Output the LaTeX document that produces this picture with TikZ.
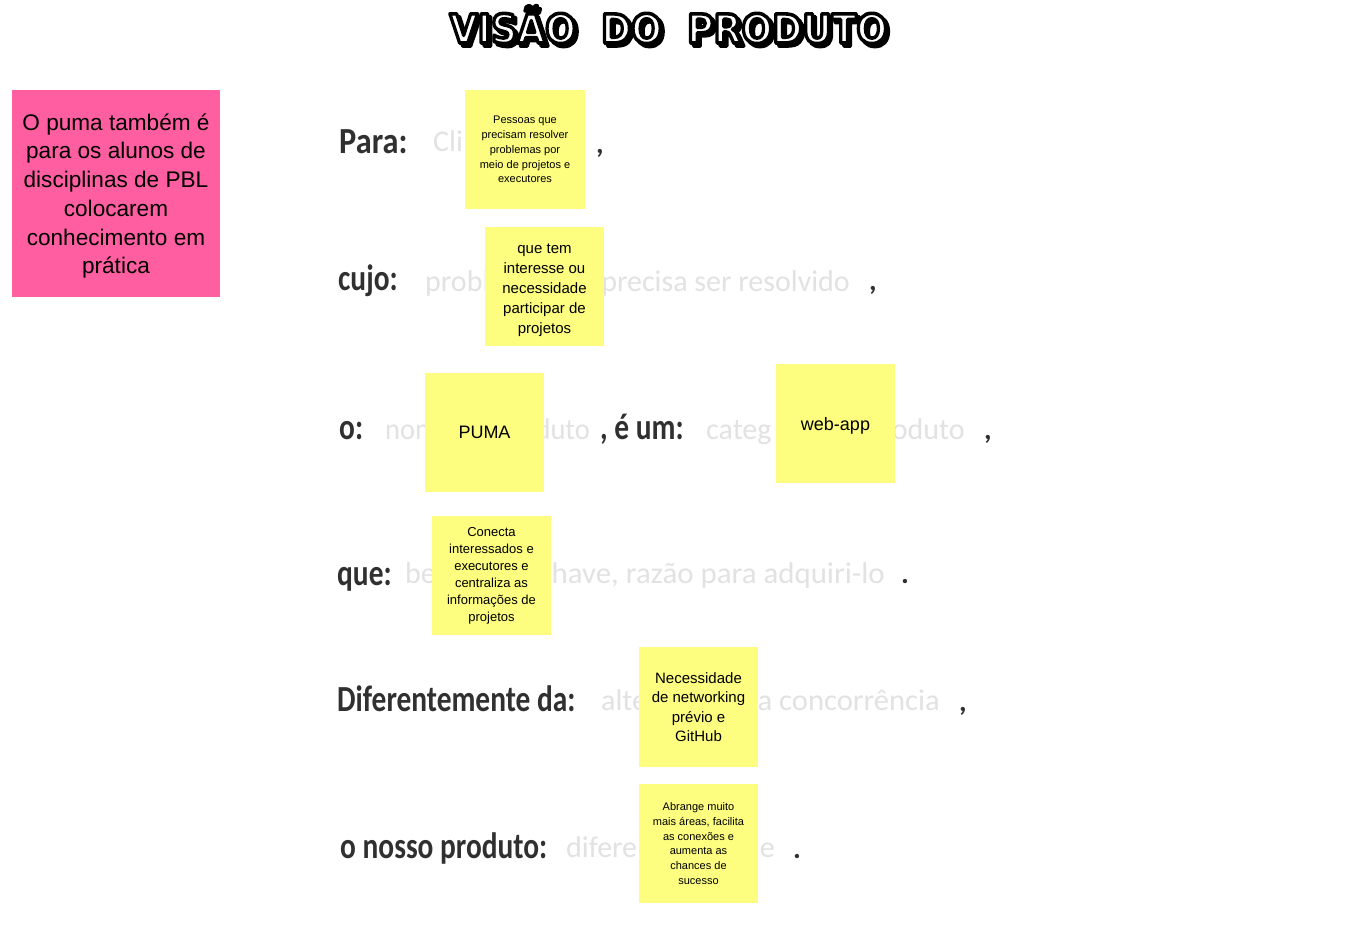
\documentclass[tikz,border=0pt]{standalone}
\usepackage{graphicx}
\usepackage{fontspec}
\setmainfont{Liberation Sans}
\newfontfamily\hand{Carlito}
\newfontfamily\titlef{DejaVu Sans}
\definecolor{noteyellow}{RGB}{253,253,128}
\definecolor{notepink}{RGB}{255,95,160}
\definecolor{ghostgray}{RGB}{226,226,226}
\definecolor{labelgray}{RGB}{48,48,48}
\newcommand\tallTxt[1]{\scalebox{1.0}[1.25]{#1}}
\newcommand\myTitle{\scalebox{0.905}[1]{\special{pdf:literal direct 0 G 2 Tr 3.6 w 1 j}\titlef\bfseries\fontsize{40}{40}\selectfont VIS\~AO\ \ DO\ \ PRODUTO\special{pdf:literal direct 0 Tr}}}
\newcommand\xs[2]{\scalebox{#1}[1]{#2}}
\begin{document}
\begin{tikzpicture}[x=1pt,y=-1pt,
  ghost/.style={anchor=base west, inner sep=0pt, text=ghostgray, font=\hand\fontsize{30}{30}\selectfont},
  ghostr/.style={ghost, anchor=base east},
  lbl/.style={anchor=base west, inner sep=0pt, text=labelgray, font=\hand\bfseries\fontsize{29.4}{30}\selectfont},
  note/.style={fill=noteyellow, minimum width=119.5pt, minimum height=119.5pt, inner sep=0pt, align=center, text=black},
  notetext/.style={inner sep=0pt, align=center, text=black},
  titlen/.style={inner sep=0pt, anchor=base}
]
\fill[white] (0,0) rectangle (1355,924);
\useasboundingbox (0,0) rectangle (1355,924);

% title
\node[titlen, text=black] (titleshadow) at (671.5,46) {\myTitle};
\node[titlen, text=white] (title) at (668.5,43) {\myTitle};

% pink note
\node[fill=notepink, minimum width=208pt, minimum height=207pt, inner sep=0pt] (pink) at (116,193.5) {};
\node[notetext, font=\fontsize{22.6}{28.7}\selectfont] (pinktext) at ([yshift=-2.5pt]pink.center)
  {O puma também é\\para os alunos de\\disciplinas de PBL\\colocarem\\conhecimento em\\prática};

% ghost placeholder texts (visible parts)
\node[ghost] (g1) at (433,151) {Cli};
\node[ghost] (g2a) at (425,291) {probl};
\node[ghostr] (g2b) at (850,291) {precisa ser resolvido};
\node[ghost] (g3a) at (385,439) {\xs{0.95}{nom}};
\node[ghostr] (g3b) at (590,439) {\xs{0.95}{duto}};
\node[ghost] (g4a) at (706,439) {categ};
\node[ghostr] (g4b) at (965,439) {oduto};
\node[ghost] (g5a) at (405,583) {be};
\node[ghostr] (g5b) at (885,583) {\xs{1.03}{have, razão para adquiri-lo}};
\node[ghost] (g6a) at (601,710) {alte};
\node[ghostr] (g6b) at (940,710) {\xs{1.02}{a concorrência}};
\node[ghost] (g7a) at (566,857) {difere};
\node[ghostr] (g7b) at (775,857) {e};

% sticky notes
\node[note, font=\fontsize{11}{14.8}\selectfont] (n1) at (525,149.5)
  {Pessoas que\\precisam resolver\\problemas por\\meio de projetos e\\executores};
\node[note] (n2) at (544.5,286.5) {};
\node[notetext, font=\fontsize{15}{20}\selectfont] (t2) at ([yshift=-3.5pt]n2.center)
  {que tem\\interesse ou\\necessidade\\participar de\\projetos};
\node[note, font=\fontsize{18}{22}\selectfont] (n3) at (484.5,432.5) {PUMA};
\node[note] (n4) at (835.5,423.5) {};
\node[notetext, font=\fontsize{18}{22}\selectfont] (t4) at ([yshift=-2pt]n4.center) {web-app};
\node[note, font=\fontsize{13}{17}\selectfont] (n5) at (491.5,575.5)
  {Conecta\\interessados e\\executores e\\centraliza as\\informações de\\projetos};
\node[note, font=\fontsize{15}{19.5}\selectfont] (n6) at (698.5,707)
  {Necessidade\\de networking\\prévio e\\GitHub};
\node[note, font=\fontsize{11}{14.8}\selectfont] (n7) at (698.5,843.5)
  {Abrange muito\\mais áreas, facilita\\as conexões e\\aumenta as\\chances de\\sucesso};

% labels
\node[lbl] (para) at (339,153) {\tallTxt{\xs{1.1}{Para:}}};
\node[lbl] (cujo) at (338,290) {\tallTxt{cujo:}};
\node[lbl] (o) at (339,439) {\tallTxt{o:}};
\node[lbl] (eum) at (600,439) {\tallTxt{, é um:}};
\node[lbl] (que) at (337,585) {\tallTxt{que:}};
\node[lbl] (dif) at (337,711) {\tallTxt{Diferentemente da:}};
\node[lbl] (nosso) at (340,858) {\tallTxt{o nosso produto:}};

% punctuation
\node[lbl] (p1) at (596,153) {,};
\node[lbl] (p2) at (869,290) {,};
\node[lbl] (p3) at (984,439) {,};
\node[lbl] (p4) at (901,583) {.};
\node[lbl] (p5) at (959,711) {,};
\node[lbl] (p6) at (793,858) {.};
\end{tikzpicture}
\end{document}
